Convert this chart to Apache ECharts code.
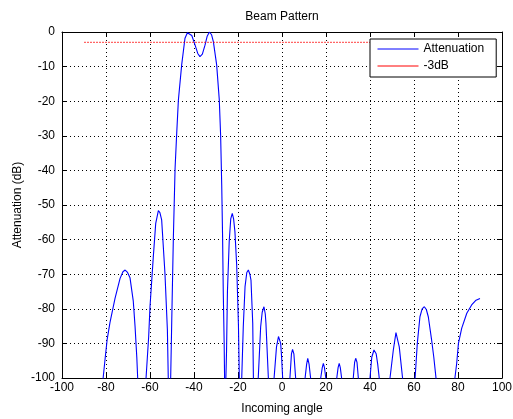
<!DOCTYPE html>
<html><head><meta charset="utf-8">
<script src="https://cdn.jsdelivr.net/npm/echarts/dist/echarts.min.js"></script>
<style>html,body{margin:0;padding:0;background:#fff}#c{width:513px;height:419px}</style>
</head><body><div id="c"></div>
<script>
// Attenuation curve (values below -100 are clipped nulls)
const angles = [
  -90, -81.3, -80.5, -79.5, -78.2, -75.9, -73.6, -72.3, -71.3, -70.2, -69.1, -67.6, -66.8, -66, -65.6,
  -63.7, -61.8, -60.6, -60, -58.5, -57.4, -56.2, -55.5, -54.7, -53.2, -52.1, -51.7,
  -51.1, -50.6, -50.1, -49.4, -48.6, -47.9, -47.1, -45.6, -44.1, -43, -42.1, -41, -39.5, -38.3, -37.3, -36.2, -35, -34, -33, -32, -31.2, -29.7, -28.5, -27.9, -27.4, -27, -26.7, -26.3, -26.1,
  -25.8, -25.5, -25.2, -24.8, -24, -23.3, -22.6, -22, -21.4, -20.6, -19.8, -19.4,
  -18.9, -18.3, -17.6, -16.8, -16, -15.3, -14.6, -14.1, -13.3, -13,
  -11.9, -10.8, -9.7, -9, -8.2, -7.6, -7.3, -6.2,
  -4.9, -3.6, -2.5, -1.6, -1.2, -0.6, -0.2, 0.3,
  2, 3.6, 4.3, 4.8, 5.4, 6.2,
  8.3, 10.5, 11.2, 11.7, 12.3, 13,
  15.3, 17.6, 18.3, 18.8, 19.3, 19.9,
  22.4, 24.9, 25.5, 26, 26.5, 27.1,
  29.8, 32.4, 33, 33.5, 34.1, 34.7,
  37.4, 40, 40.8, 41.8, 42.8, 43.5, 44.2,
  46.8, 49.1, 50.6, 51.8, 53.3, 54.8,
  57.6, 60.5, 61.5, 62.7, 63.7, 64.7, 65.6, 66.5, 68, 69, 70,
  74.3, 78.6, 79.4, 80.2, 81.7, 84, 86.2, 88.2, 90
];
const attenuation = [
  -140, -100, -95, -89, -84, -77, -71.2, -69.3, -68.8, -69.5, -71, -77.8, -85, -94, -100,
  -140, -100, -88, -79.4, -65, -55.3, -51.6, -52.2, -54.3, -69.8, -86, -100,
  -140, -100, -83, -60, -39.4, -29.8, -19.7, -9.5, -1.8, -0.2, 0, -1, -3.8, -6.2, -7.1, -6.4, -3.8, -1.2, 0, -0.8, -2.8, -9.5, -19.7, -29.8, -44.2, -59.5, -75, -89.5, -100,
  -130, -100, -92, -75, -60.6, -54, -52.4, -54, -57.7, -67.3, -84.7, -100,
  -130, -100, -85.2, -73.6, -69.5, -68.8, -70, -71.7, -84.2, -100,
  -130, -100, -85.2, -81, -79.4, -81.5, -84.2, -100,
  -130, -100, -91, -88, -87.6, -90, -93.8, -100,
  -130, -100, -93, -91.7, -93, -100,
  -130, -100, -96, -94.3, -96, -100,
  -130, -100, -97, -95.8, -97, -100,
  -130, -100, -97, -95.8, -97, -100,
  -130, -100, -95.5, -94.3, -95.5, -100,
  -130, -100, -94, -91.9, -93, -96, -100,
  -130, -100, -91.9, -86.9, -91, -100,
  -130, -100, -90, -82.3, -80, -79.4, -80.2, -82.3, -89, -94, -100,
  -130, -100, -95.8, -90, -85.6, -81.3, -78.9, -77.5, -77
];
const thresholdAngles = [-90, 90];
const thresholdValues = [-3, -3];
const seriesNames = ['Attenuation', '-3dB'];
const xRange = [-100, 100];
const yRange = [-100, 0];

const attData = angles.map((a, i) => [a, attenuation[i]]);
const thrData = thresholdAngles.map((a, i) => [a, thresholdValues[i]]);

const font = 'Liberation Sans, Arial, sans-serif';
const axisBase = {
  axisLine: { show: true, onZero: false, lineStyle: { color: '#000', width: 1 } },
  axisTick: { show: true, inside: true, length: 5, lineStyle: { color: '#000' } }
};
const chart = echarts.init(document.getElementById('c'), null, { renderer: 'canvas' });
chart.setOption({
  backgroundColor: '#fff',
  animation: false,
  textStyle: { fontFamily: font },
  grid: { left: 62, right: 11, top: 32, bottom: 41, containLabel: false, outerBoundsMode: 'none' },
  legend: {
    orient: 'vertical', left: 370, top: 39,
    padding: [4, 12, 5, 7], itemGap: 5, itemWidth: 41, itemHeight: 14,
    backgroundColor: '#fff', borderColor: '#000', borderWidth: 1, borderRadius: 0,
    itemStyle: { opacity: 0 },
    textStyle: { fontSize: 12, color: '#000', fontFamily: font },
    data: [
      { name: seriesNames[0], itemStyle: { opacity: 0 }, lineStyle: { type: 'solid', width: 1, opacity: 1 } },
      { name: seriesNames[1], itemStyle: { opacity: 0 }, lineStyle: { type: 'solid', width: 1, opacity: 1, color: '#ff0000' } }
    ]
  },
  xAxis: [
    Object.assign({}, axisBase, {
      type: 'value', position: 'bottom', min: xRange[0], max: xRange[1], interval: 20,
      name: 'Incoming angle', nameLocation: 'middle', nameGap: 25,
      nameTextStyle: { fontSize: 12, color: '#000', fontFamily: font },
      axisLabel: { fontSize: 12, color: '#000', margin: 4, fontFamily: font },
      splitLine: { show: true, lineStyle: { color: '#000', type: [1, 3], width: 1 } }
    }),
    Object.assign({}, axisBase, {
      type: 'value', position: 'top', min: xRange[0], max: xRange[1], interval: 20,
      name: 'Beam Pattern', nameLocation: 'middle', nameGap: 9,
      nameTextStyle: { fontSize: 12, color: '#000', fontFamily: font },
      axisLabel: { show: false }, splitLine: { show: false }
    })
  ],
  yAxis: [
    Object.assign({}, axisBase, {
      type: 'value', position: 'left', min: yRange[0], max: yRange[1], interval: 10,
      name: 'Attenuation (dB)', nameLocation: 'middle', nameGap: 38, nameMoveOverlap: false,
      nameTextStyle: { fontSize: 12, color: '#000', fontFamily: font },
      axisLabel: { fontSize: 12, color: '#000', margin: 7, fontFamily: font },
      splitLine: { show: true, lineStyle: { color: '#000', type: [1, 3], width: 1 } }
    }),
    Object.assign({}, axisBase, {
      type: 'value', position: 'right', min: yRange[0], max: yRange[1], interval: 10,
      axisLabel: { show: false }, splitLine: { show: false }
    })
  ],
  series: [
    {
      name: seriesNames[0], type: 'line', data: attData, xAxisIndex: 0, yAxisIndex: 0,
      symbol: 'none', clip: true, color: '#0000ff',
      lineStyle: { color: '#0000ff', width: 1.1 }
    },
    {
      name: seriesNames[1], type: 'line', data: thrData, xAxisIndex: 0, yAxisIndex: 0,
      symbol: 'none', clip: true, color: '#ff0000',
      lineStyle: { color: '#ff0000', width: 1.2, type: [2, 1], opacity: 0.6 }
    }
  ]
});
</script>
</body></html>
